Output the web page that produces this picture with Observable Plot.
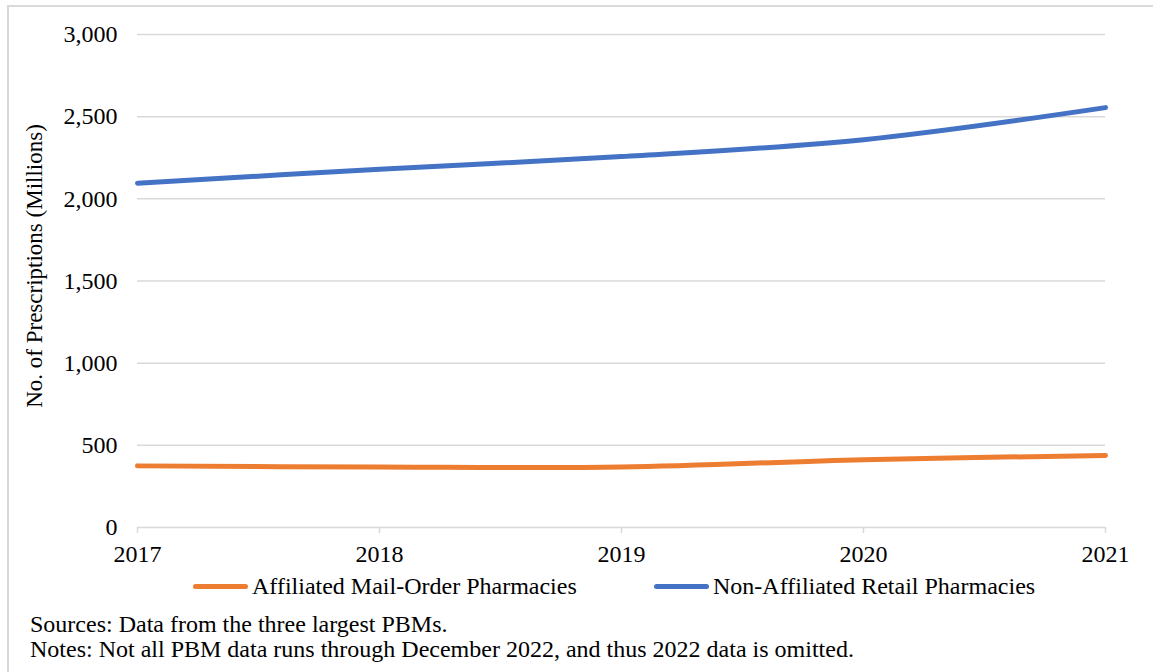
<!DOCTYPE html>
<html>
<head>
<meta charset="utf-8">
<script src="https://cdn.jsdelivr.net/npm/d3@7"></script>
<script src="https://cdn.jsdelivr.net/npm/@observablehq/plot@0.6"></script>
<style>
  html, body { margin: 0; padding: 0; background: #fff; width: 1153px; height: 672px; overflow: hidden; }
  body { position: relative; font-family: "Liberation Serif", "Times New Roman", serif; color: #000; }
  #frame { position: absolute; left: 7px; top: 5px; width: 1200px; height: 700px; border-top: 2px solid #d9d9d9; border-left: 2px solid #d9d9d9; box-sizing: border-box; }
  #chart { position: absolute; left: 0; top: 0; }
  .legend-item { position: absolute; top: 573px; height: 26px; display: flex; align-items: center; font-size: 24px; white-space: nowrap; }
  .swatch { display: inline-block; width: 55px; height: 5px; border-radius: 3px; margin-right: 4px; }
  .caption { position: absolute; left: 30px; font-size: 24px; white-space: nowrap; line-height: 25px; }
</style>
</head>
<body>
<div id="frame"></div>
<div id="chart"></div>
<div id="legend"></div>
<div class="caption" id="cap1" style="top:612px;"></div>
<div class="caption" id="cap2" style="top:637px;"></div>
<script>
const years = [2017, 2018, 2019, 2020, 2021];
const affiliatedMailOrder = [375, 368, 368, 413, 438];
const nonAffiliatedRetail = [2095, 2180, 2257, 2360, 2555];
const seriesNames = ["Affiliated Mail-Order Pharmacies", "Non-Affiliated Retail Pharmacies"];
const seriesColors = ["#ED7D31", "#4472C4"];
const yTicks = [0, 500, 1000, 1500, 2000, 2500, 3000];
const yLabel = "No. of Prescriptions (Millions)";
const sourceNote = "Sources: Data from the three largest PBMs.";
const notesNote = "Notes: Not all PBM data runs through December 2022, and thus 2022 data is omitted.";

const data = [];
years.forEach((yr, i) => {
  data.push({year: yr, value: affiliatedMailOrder[i], series: seriesNames[0]});
  data.push({year: yr, value: nonAffiliatedRetail[i], series: seriesNames[1]});
});

const chart = Plot.plot({
  width: 1153,
  height: 560,
  marginLeft: 137,
  marginRight: 48,
  marginTop: 34,
  marginBottom: 33,
  style: {fontFamily: "'Liberation Serif', 'Times New Roman', serif", fontSize: "24px", color: "#000", background: "transparent", overflow: "visible"},
  x: {domain: [2017, 2021], ticks: years, tickFormat: d => String(d)},
  y: {domain: [0, 3000], ticks: yTicks},
  color: {domain: seriesNames, range: seriesColors},
  marks: [
    Plot.gridY(yTicks.filter(t => t > 0), {stroke: "#d9d9d9", strokeOpacity: 1, strokeWidth: 1.5}),
    Plot.ruleY([0], {stroke: "#d9d9d9", strokeWidth: 1.5}),
    Plot.axisX({ticks: years, tickFormat: d => String(d), tickSize: 6, tickPadding: 11, stroke: "#d9d9d9", strokeWidth: 1.5, fill: "#000", label: null}),
    Plot.axisY({ticks: yTicks, tickFormat: d3.format(","), tickSize: 0, tickPadding: 20, label: null, fill: "#000"}),
    Plot.lineY(data, {x: "year", y: "value", stroke: "series", strokeWidth: 5, curve: "catmull-rom", strokeLinecap: "round"}),
    Plot.text([yLabel], {frameAnchor: "left", dx: -103, dy: -15, rotate: -90, fill: "#000", fontSize: 23, textAnchor: "middle"})
  ]
});
document.getElementById("chart").appendChild(chart);

const legend = document.getElementById("legend");
const legendX = [193, 654];
seriesNames.forEach((name, i) => {
  const item = document.createElement("div");
  item.className = "legend-item";
  item.style.left = legendX[i] + "px";
  const sw = document.createElement("span");
  sw.className = "swatch";
  sw.style.background = seriesColors[i];
  item.appendChild(sw);
  item.appendChild(document.createTextNode(name));
  legend.appendChild(item);
});
document.getElementById("cap1").textContent = sourceNote;
document.getElementById("cap2").textContent = notesNote;
</script>
</body>
</html>
